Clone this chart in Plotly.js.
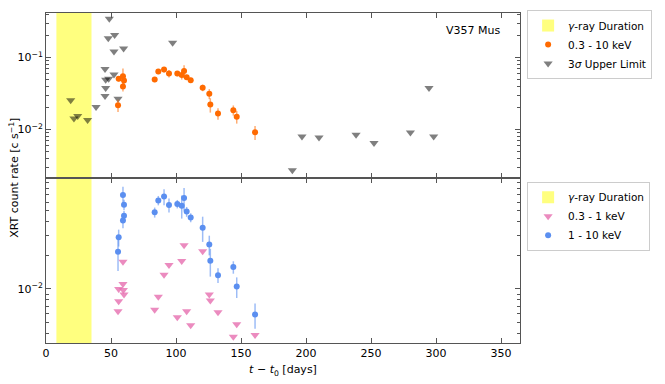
<!DOCTYPE html>
<html>
<head>
<meta charset="utf-8">
<script src="https://cdn.plot.ly/plotly-3.0.1.min.js"></script>
<style>
  html, body { margin: 0; padding: 0; background: #fff; }
  #chart { width: 665px; height: 384px; }
</style>
</head>
<body>
<div id="chart"></div>
<script>
// gamma-ray window (days)
const gammaStart = 8;
const gammaEnd = 35;

// 0.3 - 10 keV detections
const fullX = [55.4, 55.9, 59.2, 60.0, 59.2, 83.6, 86.4, 90.8, 94.6, 101.0, 104.4, 106.2, 108.2, 111.3, 120.5, 125.6, 126.4, 132.3, 144.1, 146.7, 160.8];
const fullY = [0.0218, 0.0505, 0.055, 0.048, 0.0397, 0.0494, 0.0637, 0.0678, 0.0598, 0.0598, 0.0573, 0.0649, 0.0532, 0.0484, 0.038, 0.0314, 0.0222, 0.0167, 0.0186, 0.0151, 0.0092];
const fullErr = [0.0042, 0.004, 0.015, 0.006, 0.006, 0.004, 0.005, 0.006, 0.007, 0.005, 0.008, 0.013, 0.004, 0.004, 0.004, 0.005, 0.005, 0.003, 0.003, 0.003, 0.002];

// 3 sigma upper limits, 0.3 - 10 keV
const ulX = [19.0, 21.5, 24.4, 32.0, 38.5, 45.4, 45.9, 45.9, 45.4, 48.7, 47.9, 52.8, 52.3, 59.7, 48.2, 52.3, 55.4, 97.4,
             189.5, 196.9, 210.0, 238.5, 252.3, 280.3, 294.6, 298.2];
const ulY = [0.0255, 0.0143, 0.0154, 0.0136, 0.0205, 0.069, 0.0489, 0.0376, 0.0292, 0.345, 0.184, 0.205, 0.121, 0.133, 0.0505, 0.058, 0.0268, 0.160,
             0.00274, 0.00801, 0.00776, 0.00845, 0.0065, 0.0091, 0.0376, 0.0080];

// 1 - 10 keV detections
const hardX = [55.4, 55.9, 59.2, 60.0, 60.0, 59.2, 83.6, 86.4, 90.8, 94.6, 101.0, 104.4, 106.2, 108.2, 111.3, 120.5, 125.6, 126.4, 132.3, 144.1, 146.7, 160.8];
const hardY = [0.0215, 0.029, 0.0693, 0.0569, 0.0452, 0.041, 0.0486, 0.0621, 0.0673, 0.0565, 0.0577, 0.0557, 0.0652, 0.0493, 0.0436, 0.0354, 0.025, 0.0179, 0.0133, 0.0157, 0.0105, 0.0059];
const hardErr = [0.007, 0.005, 0.013, 0.006, 0.005, 0.006, 0.005, 0.006, 0.011, 0.008, 0.005, 0.013, 0.015, 0.005, 0.004, 0.009, 0.005, 0.005, 0.002, 0.002, 0.0022, 0.0015];

// 0.3 - 1 keV upper limits
const softX = [59.2, 59.2, 55.9, 59.5, 55.9, 60.0, 55.4, 83.6, 86.4, 90.8, 94.6, 101.0, 104.4, 106.2, 108.2, 111.3, 120.5, 125.6, 126.4, 132.3, 144.1, 146.7, 160.8];
const softY = [0.0175, 0.0111, 0.0100, 0.0098, 0.00777, 0.0089, 0.00633, 0.00652, 0.0085, 0.0134, 0.0164, 0.00557, 0.0178, 0.0247, 0.00633, 0.00473, 0.0218, 0.0089, 0.00788, 0.0062, 0.00373, 0.00483, 0.00386];

const FONT = 'DejaVu Sans, sans-serif';
const AXIS_COL = '#555';

function minorVals(lo, hi) {
  const v = [];
  for (let e = lo; e <= hi; e++) {
    for (let d = 2; d <= 9; d++) v.push(d * Math.pow(10, e));
  }
  return v;
}

const traces = [
  {
    x: ulX, y: ulY, xaxis: 'x', yaxis: 'y',
    type: 'scatter', mode: 'markers', name: '3<i>σ</i> Upper Limit',
    legend: 'legend', legendrank: 3,
    marker: {symbol: 'triangle-down', size: 8, color: 'rgba(0,0,0,0.5)'}
  },
  {
    x: fullX, y: fullY, xaxis: 'x', yaxis: 'y',
    type: 'scatter', mode: 'markers', name: '0.3 - 10 keV',
    legend: 'legend', legendrank: 2,
    marker: {symbol: 'circle', size: 6, color: '#ff6a00'},
    error_y: {type: 'data', array: fullErr, color: 'rgba(255,106,0,0.55)', thickness: 1.5, width: 0}
  },
  {
    x: hardX, y: hardY, xaxis: 'x2', yaxis: 'y2',
    type: 'scatter', mode: 'markers', name: '1 - 10 keV',
    legend: 'legend2', legendrank: 3,
    marker: {symbol: 'circle', size: 6, color: '#5b8ff0'},
    error_y: {type: 'data', array: hardErr, color: 'rgba(91,143,240,0.6)', thickness: 1.5, width: 0}
  },
  {
    x: softX, y: softY, xaxis: 'x2', yaxis: 'y2',
    type: 'scatter', mode: 'markers', name: '0.3 - 1 keV',
    legend: 'legend2', legendrank: 2,
    marker: {symbol: 'triangle-down', size: 8, color: 'rgba(230,110,175,0.8)'}
  }
];

const yTickFont = {family: FONT, size: 11, color: '#000'};

const layout = {
  width: 665, height: 384,
  margin: {l: 46, r: 145, t: 10, b: 41},
  paper_bgcolor: '#fff', plot_bgcolor: '#fff',
  font: {family: FONT, size: 11, color: '#000'},
  xaxis: {
    domain: [0, 1], anchor: 'y', matches: 'x2', range: [0, 364.6],
    showticklabels: false, ticks: 'inside', ticklen: 5, tickcolor: AXIS_COL,
    tickvals: [0, 50, 100, 150, 200, 250, 300, 350],
    showline: true, linecolor: AXIS_COL, mirror: 'allticks', showgrid: false, zeroline: false
  },
  xaxis2: {
    domain: [0, 1], anchor: 'y2', range: [0, 364.6],
    ticks: 'inside', ticklen: 5, tickcolor: AXIS_COL,
    tickvals: [0, 50, 100, 150, 200, 250, 300, 350], tickfont: yTickFont,
    showline: true, linecolor: AXIS_COL, mirror: 'allticks', showgrid: false, zeroline: false,
    title: {text: '<i>t</i> − <i>t</i><sub>0</sub> [days]', font: {family: FONT, size: 11}, standoff: 6}
  },
  yaxis: {
    domain: [0.5, 1], anchor: 'x', type: 'log', range: [-2.671, -0.384],
    ticks: 'inside', ticklen: 5, tickcolor: AXIS_COL,
    tickvals: [0.01, 0.1], ticktext: ['10<sup>−2</sup>', '10<sup>−1</sup>'], tickfont: yTickFont,
    minor: {tickvals: minorVals(-3, -1), ticks: 'inside', ticklen: 3, tickcolor: AXIS_COL, showgrid: false},
    showline: true, linecolor: AXIS_COL, mirror: 'allticks', showgrid: false, zeroline: false
  },
  yaxis2: {
    domain: [0, 0.5], anchor: 'x2', type: 'log', range: [-2.484, -1.006],
    ticks: 'inside', ticklen: 5, tickcolor: AXIS_COL,
    tickvals: [0.01], ticktext: ['10<sup>−2</sup>'], tickfont: yTickFont,
    minor: {tickvals: minorVals(-3, -2), ticks: 'inside', ticklen: 3, tickcolor: AXIS_COL, showgrid: false},
    showline: true, linecolor: AXIS_COL, mirror: 'allticks', showgrid: false, zeroline: false
  },
  shapes: [
    {
      type: 'rect', xref: 'x', yref: 'y domain', x0: gammaStart, x1: gammaEnd, y0: 0, y1: 1,
      fillcolor: 'rgba(255,255,0,0.5)', line: {width: 0}, layer: 'below',
      showlegend: true, name: '<i>γ</i>-ray Duration', legend: 'legend', legendrank: 1
    },
    {
      type: 'rect', xref: 'x2', yref: 'y2 domain', x0: gammaStart, x1: gammaEnd, y0: 0, y1: 1,
      fillcolor: 'rgba(255,255,0,0.5)', line: {width: 0}, layer: 'below',
      showlegend: true, name: '<i>γ</i>-ray Duration', legend: 'legend2', legendrank: 1
    }
  ],
  legend: {
    x: 1.015, y: 1.009, xanchor: 'left', yanchor: 'top',
    bordercolor: '#ccc', borderwidth: 1, bgcolor: '#fff',
    font: {family: FONT, size: 10.5}, tracegroupgap: 0, itemwidth: 30
  },
  legend2: {
    x: 1.015, y: 0.489, xanchor: 'left', yanchor: 'top',
    bordercolor: '#ccc', borderwidth: 1, bgcolor: '#fff',
    font: {family: FONT, size: 10.5}, tracegroupgap: 0, itemwidth: 30
  },
  annotations: [
    {
      text: 'V357 Mus', xref: 'paper', yref: 'paper', x: 0.962, y: 0.946,
      xanchor: 'right', yanchor: 'middle', showarrow: false,
      font: {family: FONT, size: 11, color: '#000'}
    },
    {
      text: 'XRT count rate [c s<sup>−1</sup>]', xref: 'paper', yref: 'paper', x: -0.068, y: 0.5,
      xanchor: 'center', yanchor: 'middle', textangle: -90, showarrow: false,
      font: {family: FONT, size: 11, color: '#000'}
    }
  ]
};

Plotly.newPlot('chart', traces, layout, {displayModeBar: false, staticPlot: true});
</script>
</body>
</html>
